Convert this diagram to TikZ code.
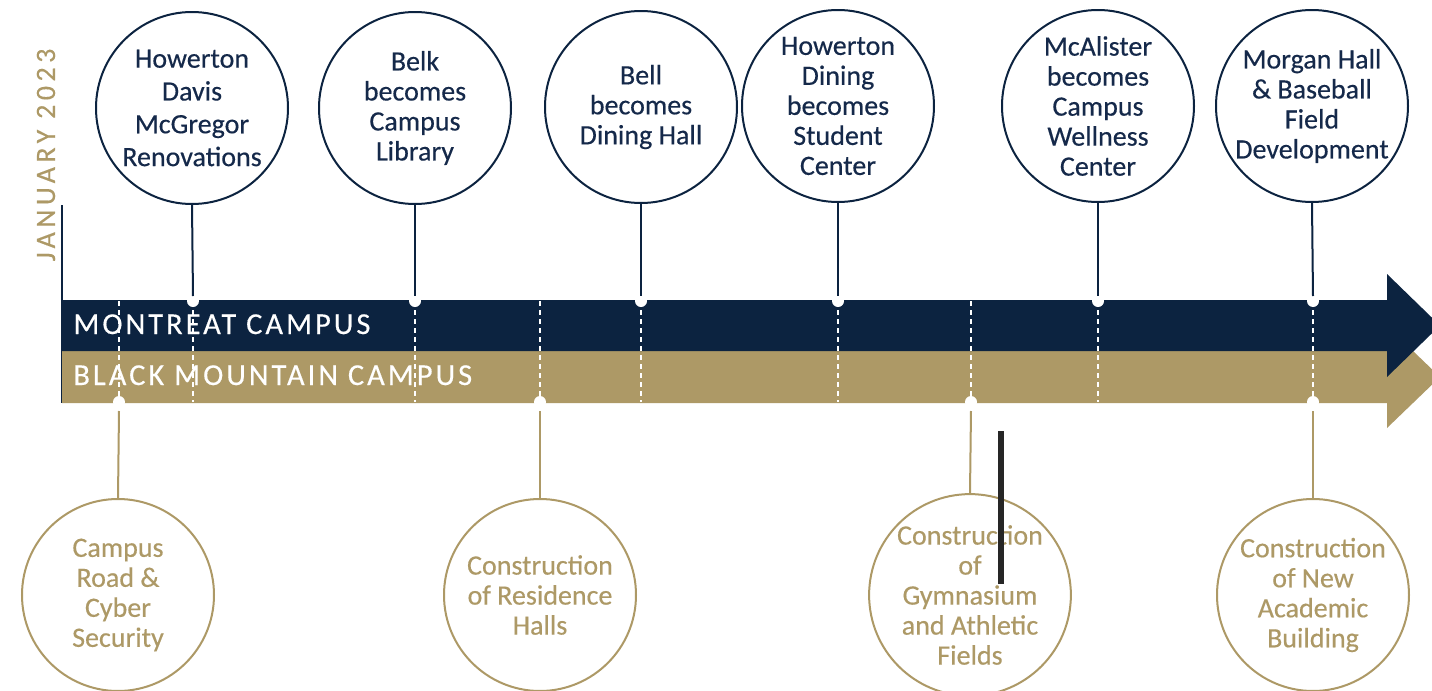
\documentclass[tikz,border=0pt]{standalone}
\usepackage{fontspec}
\setmainfont[FakeBold=0.35]{Carlito}
\newfontfamily\bandfont[LetterSpace=10,FakeBold=0.4]{Carlito}
\newfontfamily\datefont[LetterSpace=16,FakeBold=0.3]{Carlito}
\definecolor{navy}{HTML}{0C2340}
\definecolor{navytext}{HTML}{15294A}
\definecolor{gold}{HTML}{AD9966}
\begin{document}
\begin{tikzpicture}[x=0.5pt,y=-0.5pt,
  topevent/.style={circle,draw=navy,line width=1pt,fill=white,minimum size=96pt,
    inner sep=0pt,align=center,text=navytext,font=\fontsize{14}{15}\selectfont},
  botevent/.style={circle,draw=gold,line width=1pt,fill=white,minimum size=96pt,
    inner sep=0pt,align=center,text=gold,font=\fontsize{14}{15}\selectfont},
  toplink/.style={draw=navy,line width=1pt},
  botlink/.style={draw=gold,line width=1pt},
  tick/.style={draw=white,line width=0.6pt,dash pattern=on 2.5pt off 2pt},
  notch/.style={fill=white},
  bandlabel/.style={text=white,font=\bandfont\fontsize{15.2}{16}\selectfont,inner sep=0pt}]
\useasboundingbox (0,0) rectangle (1432,691);
\clip (0,0) rectangle (1432,691);
\fill[white] (0,0) rectangle (1432,691);

% start marker and date
\draw[navy,line width=0.8pt] (62,205) -- (62,403);
\node[rotate=90,text=gold,font=\datefont\fontsize{14}{15}\selectfont,inner sep=0pt] (date) at (46,155) {JANUARY 2023};

% campus bands as arrows
\fill[gold] (62,351) -- (1387,351) -- (1387,326) -- (1440,377) -- (1387,428) -- (1387,403) -- (62,403) -- cycle;
\fill[navy] (62,300) -- (1387,300) -- (1387,274) -- (1440,325.5) -- (1387,377) -- (1387,351) -- (62,351) -- cycle;
\node[bandlabel,anchor=base west] (montreat) at (73,334) {MONTREAT CAMPUS};
\node[bandlabel,anchor=base west] (blackmtn) at (73,385) {BLACK MOUNTAIN CAMPUS};

% dashed milestone ticks across both bands
\foreach \x in {119,193,415,540,641,838,971,1098,1313}
  \draw[tick] (\x,301) -- (\x,402);

% Montreat milestones
\node[topevent,font=\fontsize{14}{16.4}\selectfont] (m1) at (192,108) {Howerton\\Davis\\McGregor\\Renovations};
\node[topevent] (m2) at (415,108) {Belk\\becomes\\Campus\\Library};
\node[topevent] (m3) at (641,107) {Bell\\becomes\\Dining Hall};
\node[topevent] (m4) at (838,106) {Howerton\\Dining\\becomes\\Student\\Center};
\node[topevent] (m5) at (1098,106) {McAlister\\becomes\\Campus\\Wellness\\Center};
\node[topevent] (m6) at (1312,106) {Morgan Hall\\\& Baseball\\Field\\Development};

\foreach \i/\x in {1/193,2/415,3/641,4/838,5/1098,6/1313}{
  \coordinate (mt\i) at (\x,296);
  \fill[notch] (\x,301) circle (3pt);
}
\draw[toplink] (m1.south) -- (mt1);
\draw[toplink] (m2.south) -- (mt2);
\draw[toplink] (m3.south) -- (mt3);
\draw[toplink] (m4.south) -- (mt4);
\draw[toplink] (m5.south) -- (mt5);
\draw[toplink] (m6.south) -- (mt6);

% Black Mountain milestones
\node[botevent] (b1) at (118,595) {Campus\\Road \&\\Cyber\\Security};
\node[botevent] (b2) at (540,595) {Construction\\of Residence\\Halls};
\node[botevent] (b3) at (970,595) {Construction\\of\\Gymnasium\\and Athletic\\Fields};
\node[botevent] (b4) at (1313,595) {Construction\\of New\\Academic\\Building};

\foreach \i/\x in {1/119,2/540,3/971,4/1313}{
  \coordinate (bt\i) at (\x,411);
  \fill[notch] (\x,402) circle (3pt);
}
\draw[botlink] (bt1) -- (b1.north);
\draw[botlink] (bt2) -- (b2.north);
\draw[botlink] (bt3) -- (b3.north);
\draw[botlink] (bt4) -- (b4.north);

% dark marker bar
\fill[black!85] (998,431) rectangle (1004,584);
\end{tikzpicture}
\end{document}
